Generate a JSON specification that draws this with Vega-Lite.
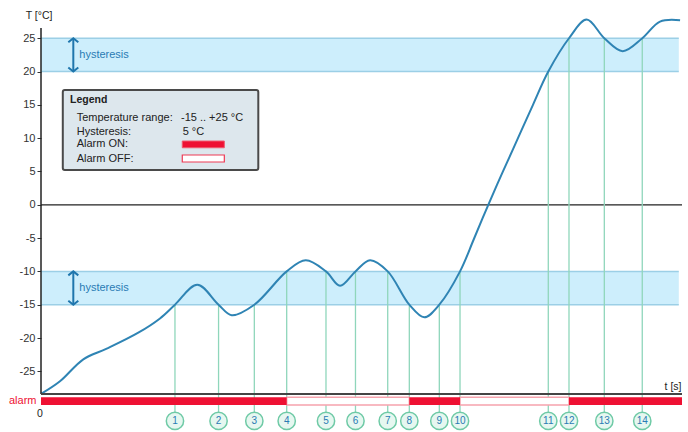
{
  "$schema": "https://vega.github.io/schema/vega-lite/v6.json",
  "width": 641,
  "height": 432,
  "autosize": "none",
  "padding": {"left": 41, "right": 6, "top": 0, "bottom": 0},
  "background": "white",
  "config": {"view": {"stroke": null}, "font": "Liberation Sans"},
  "datasets": {
    "curve": [
      {"t": 0, "T": -28.4}, {"t": 2.96, "T": -26.5}, {"t": 6.6, "T": -23.2}, {"t": 10.25, "T": -21.6},
      {"t": 15.18, "T": -19.2}, {"t": 18.56, "T": -17.06}, {"t": 20.9, "T": -15}, {"t": 24.38, "T": -12.0},
      {"t": 27.7, "T": -15}, {"t": 29.75, "T": -16.57}, {"t": 33.28, "T": -15}, {"t": 38.33, "T": -10},
      {"t": 41.3, "T": -8.33}, {"t": 44.46, "T": -10}, {"t": 46.65, "T": -12.16}, {"t": 49.06, "T": -10},
      {"t": 51.33, "T": -8.33}, {"t": 54.09, "T": -10}, {"t": 57.46, "T": -15}, {"t": 59.8, "T": -16.9},
      {"t": 62.14, "T": -15}, {"t": 65.37, "T": -10}, {"t": 67.55, "T": -5.1}, {"t": 69.78, "T": 0},
      {"t": 72.07, "T": 5}, {"t": 74.41, "T": 10}, {"t": 76.75, "T": 15}, {"t": 79.14, "T": 20},
      {"t": 82.37, "T": 25}, {"t": 85.13, "T": 27.8}, {"t": 87.88, "T": 25}, {"t": 90.75, "T": 23.06},
      {"t": 93.8, "T": 25}, {"t": 96.57, "T": 27.5}, {"t": 99.7, "T": 27.7}
    ],
    "bands": [
      {"t": 0, "t2": 99.5, "T": 20, "T2": 25},
      {"t": 0, "t2": 99.5, "T": -15, "T2": -10}
    ],
    "bandEdges": [
      {"t": 0, "t2": 99.5, "T": 20}, {"t": 0, "t2": 99.5, "T": 25},
      {"t": 0, "t2": 99.5, "T": -10}, {"t": 0, "t2": 99.5, "T": -15}
    ],
    "zeroLine": [{"t": 0, "t2": 100, "T": 0}],
    "xAxisLine": [{"t": 0, "t2": 100, "T": -28.4}],
    "yAxisLine": [{"t": 0, "T": -28.4, "T2": 26.53}],
    "markers": [
      {"t": 20.9, "T": -15, "T2": -31.11}, {"t": 27.7, "T": -15, "T2": -31.11},
      {"t": 33.28, "T": -15, "T2": -31.11}, {"t": 38.33, "T": -10, "T2": -31.11},
      {"t": 44.46, "T": -10, "T2": -31.11}, {"t": 49.06, "T": -10, "T2": -31.11},
      {"t": 54.09, "T": -10, "T2": -31.11}, {"t": 57.46, "T": -15, "T2": -31.11},
      {"t": 62.14, "T": -15, "T2": -31.11}, {"t": 65.37, "T": -10, "T2": -31.11},
      {"t": 79.14, "T": 20, "T2": -31.11}, {"t": 82.37, "T": 25, "T2": -31.11},
      {"t": 87.88, "T": 25, "T2": -31.11}, {"t": 93.8, "T": 25, "T2": -31.11}
    ],
    "circles": [
      {"t": 20.9, "T": -32.45, "n": "1"}, {"t": 27.7, "T": -32.45, "n": "2"},
      {"t": 33.28, "T": -32.45, "n": "3"}, {"t": 38.33, "T": -32.45, "n": "4"},
      {"t": 44.46, "T": -32.45, "n": "5"}, {"t": 49.06, "T": -32.45, "n": "6"},
      {"t": 54.09, "T": -32.45, "n": "7"}, {"t": 57.46, "T": -32.45, "n": "8"},
      {"t": 62.14, "T": -32.45, "n": "9"}, {"t": 65.37, "T": -32.45, "n": "10"},
      {"t": 79.14, "T": -32.45, "n": "11"}, {"t": 82.37, "T": -32.45, "n": "12"},
      {"t": 87.88, "T": -32.45, "n": "13"}, {"t": 93.8, "T": -32.45, "n": "14"}
    ],
    "alarm": [
      {"t": 0, "t2": 38.33, "T": -28.9, "T2": -30.06, "state": "on"},
      {"t": 38.33, "t2": 57.46, "T": -28.9, "T2": -30.06, "state": "off"},
      {"t": 57.46, "t2": 65.37, "T": -28.9, "T2": -30.06, "state": "on"},
      {"t": 65.37, "t2": 82.37, "T": -28.9, "T2": -30.06, "state": "off"},
      {"t": 82.37, "t2": 100, "T": -28.9, "T2": -30.06, "state": "on"}
    ],
    "arrows": [{"t": 5.04, "T": 20, "T2": 25}, {"t": 5.04, "T": -15, "T2": -10}],
    "arrowUp": [{"t": 5.04, "T": 25}, {"t": 5.04, "T": -10}],
    "arrowDown": [{"t": 5.04, "T": 20}, {"t": 5.04, "T": -15}],
    "hystLabels": [{"t": 5.97, "T": 22.5, "label": "hysteresis"}, {"t": 5.97, "T": -12.5, "label": "hysteresis"}],
    "axisTexts": [
      {"t": -0.3, "T": 28.34, "label": "T [°C]"},
      {"t": 98.6, "T": -27.3, "label": "t [s]"},
      {"t": -0.16, "T": -31.4, "label": "0"}
    ],
    "alarmText": [{"t": -0.7, "T": -29.5, "label": "alarm"}],
    "legendBox": [{"t": 3.4, "t2": 33.9, "T": 17.23, "T2": 5.22}],
    "legendTitle": [{"t": 4.52, "T": 15.73, "label": "Legend"}],
    "legendLabels": [
      {"t": 5.57, "T": 12.98, "label": "Temperature range:"},
      {"t": 5.57, "T": 10.97, "label": "Hysteresis:"},
      {"t": 5.57, "T": 9.08, "label": "Alarm ON:"},
      {"t": 5.57, "T": 6.87, "label": "Alarm OFF:"}
    ],
    "legendValues": [
      {"t": 21.84, "T": 12.98, "label": "-15 .. +25 °C"},
      {"t": 22.1, "T": 10.97, "label": "5 °C"}
    ],
    "legendOn": [{"t": 22.04, "t2": 28.6, "T": 9.57, "T2": 8.56}],
    "legendOff": [{"t": 22.04, "t2": 28.6, "T": 7.47, "T2": 6.42}]
  },
  "encoding": {
    "x": {"field": "t", "type": "quantitative", "scale": {"domain": [0, 100], "nice": false, "zero": false}, "axis": null},
    "y": {
      "field": "T", "type": "quantitative",
      "scale": {"domain": [-34.11, 30.74], "nice": false, "zero": false},
      "axis": {
        "values": [-25, -20, -15, -10, -5, 0, 5, 10, 15, 20, 25],
        "labelExpr": "toString(datum.value)",
        "domain": false, "grid": false, "ticks": true, "tickSize": 4, "tickColor": "#333",
        "labelPadding": 2, "labelFontSize": 11, "labelColor": "#333", "labelFont": "Liberation Sans",
        "title": null
      }
    }
  },
  "layer": [
    {"data": {"name": "bands"}, "mark": {"type": "rect", "fill": "#cdeefc", "stroke": null},
     "encoding": {"x2": {"field": "t2"}, "y2": {"field": "T2"}}},
    {"data": {"name": "bandEdges"}, "mark": {"type": "rule", "stroke": "#9ccfe6", "strokeWidth": 1.5},
     "encoding": {"x2": {"field": "t2"}}},
    {"data": {"name": "zeroLine"}, "mark": {"type": "rule", "stroke": "#222", "strokeWidth": 1.3},
     "encoding": {"x2": {"field": "t2"}}},
    {"data": {"name": "markers"}, "mark": {"type": "rule", "stroke": "#8fd6bb", "strokeWidth": 1.3},
     "encoding": {"y2": {"field": "T2"}}},
    {"data": {"name": "curve"}, "mark": {"type": "line", "stroke": "#2f84b4", "strokeWidth": 2, "interpolate": "catmull-rom"},
     "encoding": {}},
    {"data": {"name": "yAxisLine"}, "mark": {"type": "rule", "stroke": "#222", "strokeWidth": 1.5},
     "encoding": {"y2": {"field": "T2"}}},
    {"data": {"name": "xAxisLine"}, "mark": {"type": "rule", "stroke": "#444", "strokeWidth": 2},
     "encoding": {"x2": {"field": "t2"}}},
    {"data": {"name": "alarm"}, "transform": [{"filter": "datum.state === 'off'"}],
     "mark": {"type": "rect", "fill": "white", "stroke": "#f6a3ad", "strokeWidth": 1.5},
     "encoding": {"x2": {"field": "t2"}, "y2": {"field": "T2"}}},
    {"data": {"name": "alarm"}, "transform": [{"filter": "datum.state === 'on'"}],
     "mark": {"type": "rect", "fill": "#ee1133", "stroke": null},
     "encoding": {"x2": {"field": "t2"}, "y2": {"field": "T2"}}},
    {"data": {"name": "arrows"}, "mark": {"type": "rule", "stroke": "#1f76ad", "strokeWidth": 2},
     "encoding": {"y2": {"field": "T2"}}},
    {"data": {"name": "arrowUp"}, "mark": {"type": "point", "shape": "M-1,0.8L0,0L1,0.8", "filled": false, "stroke": "#1f76ad", "strokeWidth": 2, "size": 100, "opacity": 1},
     "encoding": {}},
    {"data": {"name": "arrowDown"}, "mark": {"type": "point", "shape": "M-1,-0.8L0,0L1,-0.8", "filled": false, "stroke": "#1f76ad", "strokeWidth": 2, "size": 100, "opacity": 1},
     "encoding": {}},
    {"data": {"name": "hystLabels"}, "mark": {"type": "text", "align": "left", "baseline": "middle", "fontSize": 11, "color": "#2a7bb4", "font": "Liberation Sans"},
     "encoding": {"text": {"field": "label"}}},
    {"data": {"name": "axisTexts"}, "mark": {"type": "text", "align": "center", "baseline": "middle", "fontSize": 10.5, "color": "#222", "font": "Liberation Sans"},
     "encoding": {"text": {"field": "label"}}},
    {"data": {"name": "alarmText"}, "mark": {"type": "text", "align": "right", "baseline": "middle", "fontSize": 11, "color": "#ee1133", "font": "Liberation Sans"},
     "encoding": {"text": {"field": "label"}}},
    {"data": {"name": "legendBox"}, "mark": {"type": "rect", "fill": "#dde7ed", "stroke": "#4a4a4a", "strokeWidth": 2, "cornerRadius": 2},
     "encoding": {"x2": {"field": "t2"}, "y2": {"field": "T2"}}},
    {"data": {"name": "legendTitle"}, "mark": {"type": "text", "align": "left", "baseline": "middle", "fontSize": 10.5, "fontWeight": "bold", "color": "#222", "font": "Liberation Sans"},
     "encoding": {"text": {"field": "label"}}},
    {"data": {"name": "legendLabels"}, "mark": {"type": "text", "align": "left", "baseline": "middle", "fontSize": 11, "color": "#222", "font": "Liberation Sans"},
     "encoding": {"text": {"field": "label"}}},
    {"data": {"name": "legendValues"}, "mark": {"type": "text", "align": "left", "baseline": "middle", "fontSize": 11, "color": "#222", "font": "Liberation Sans"},
     "encoding": {"text": {"field": "label"}}},
    {"data": {"name": "legendOn"}, "mark": {"type": "rect", "fill": "#ee1133", "stroke": "#f05a6e", "strokeWidth": 1},
     "encoding": {"x2": {"field": "t2"}, "y2": {"field": "T2"}}},
    {"data": {"name": "legendOff"}, "mark": {"type": "rect", "fill": "white", "stroke": "#ee3a55", "strokeWidth": 1.2},
     "encoding": {"x2": {"field": "t2"}, "y2": {"field": "T2"}}},
    {"data": {"name": "circles"}, "mark": {"type": "point", "shape": "circle", "filled": true, "fill": "#e6f7f0", "stroke": "#6fcaa6", "strokeWidth": 1.5, "size": 300, "opacity": 1},
     "encoding": {}},
    {"data": {"name": "circles"}, "mark": {"type": "text", "align": "center", "baseline": "middle", "fontSize": 10, "color": "#2a7bb4", "font": "Liberation Sans"},
     "encoding": {"text": {"field": "n"}}}
  ]
}
